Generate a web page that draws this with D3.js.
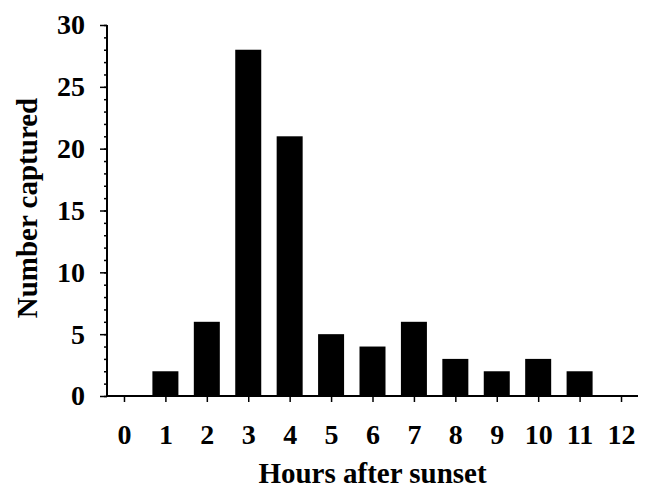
<!DOCTYPE html>
<html>
<head>
<meta charset="utf-8">
<script src="https://cdn.jsdelivr.net/npm/d3@7"></script>
<style>
  body { margin: 0; background: #fff; }
  text { font-family: "Liberation Serif", "Times New Roman", serif; font-weight: bold; fill: #000; }
</style>
</head>
<body>
<svg class="svg-main" width="647" height="490"></svg>
<script>
// hours after sunset and number captured in each hour
const hours = [0, 1, 2, 3, 4, 5, 6, 7, 8, 9, 10, 11, 12];
const captured = [0, 2, 6, 28, 21, 5, 4, 6, 3, 2, 3, 2, 0];
const yTicks = [0, 5, 10, 15, 20, 25, 30];

const svg = d3.select(".svg-main");

const x = d3.scaleLinear().domain([-0.41, 12.41]).range([107, 638]);
const y = d3.scaleLinear().domain([0, 30]).range([396, 25]);
const barW = 26;
const fontSize = 28;

const styleText = (g) => g.selectAll("text")
  .attr("font-size", fontSize)
  .attr("fill", "#000")
  .style("font-family", "Liberation Serif, serif")
  .style("font-weight", "bold");

// bars
svg.append("g")
  .selectAll("rect")
  .data(hours)
  .enter().append("rect")
    .attr("x", (d) => x(d) - barW / 2)
    .attr("y", (d, i) => y(captured[i]))
    .attr("width", barW)
    .attr("height", (d, i) => y(0) - y(captured[i]))
    .attr("fill", "#000");

// y axis: minor ticks every 1, labels every 5
const yAxis = svg.append("g").attr("transform", `translate(${x.range()[0]},0)`);
yAxis.call(d3.axisLeft(y).ticks(30).tickSize(3).tickFormat(""))
  .call(g => g.select(".domain").remove());
yAxis.append("g")
  .call(d3.axisLeft(y).tickValues(yTicks).tickSize(7).tickPadding(15))
  .call(g => g.select(".domain").remove())
  .call(styleText);
yAxis.selectAll("line").attr("stroke", "#000").attr("stroke-width", 1.5);
yAxis.append("line")
  .attr("y1", y(30)).attr("y2", y(0) + 1)
  .attr("stroke", "#000").attr("stroke-width", 2);

// x axis
const xAxis = svg.append("g").attr("transform", `translate(0,${y(0)})`);
xAxis.call(d3.axisBottom(x).tickValues(hours).tickSize(6).tickPadding(22).tickFormat(d3.format("d")))
  .call(g => g.select(".domain").remove())
  .call(g => g.selectAll("line").attr("stroke", "#000").attr("stroke-width", 1.5))
  .call(styleText);
xAxis.append("line")
  .attr("x1", x.range()[0] - 1).attr("x2", x.range()[1])
  .attr("stroke", "#000").attr("stroke-width", 2);

// axis titles
svg.append("text")
  .attr("x", (x.range()[0] + x.range()[1]) / 2).attr("y", 483)
  .attr("text-anchor", "middle")
  .attr("font-size", 29)
  .text("Hours after sunset");

svg.append("text")
  .attr("transform", `translate(37,208) rotate(-90)`)
  .attr("text-anchor", "middle")
  .attr("font-size", 29)
  .text("Number captured");
</script>
</body>
</html>
